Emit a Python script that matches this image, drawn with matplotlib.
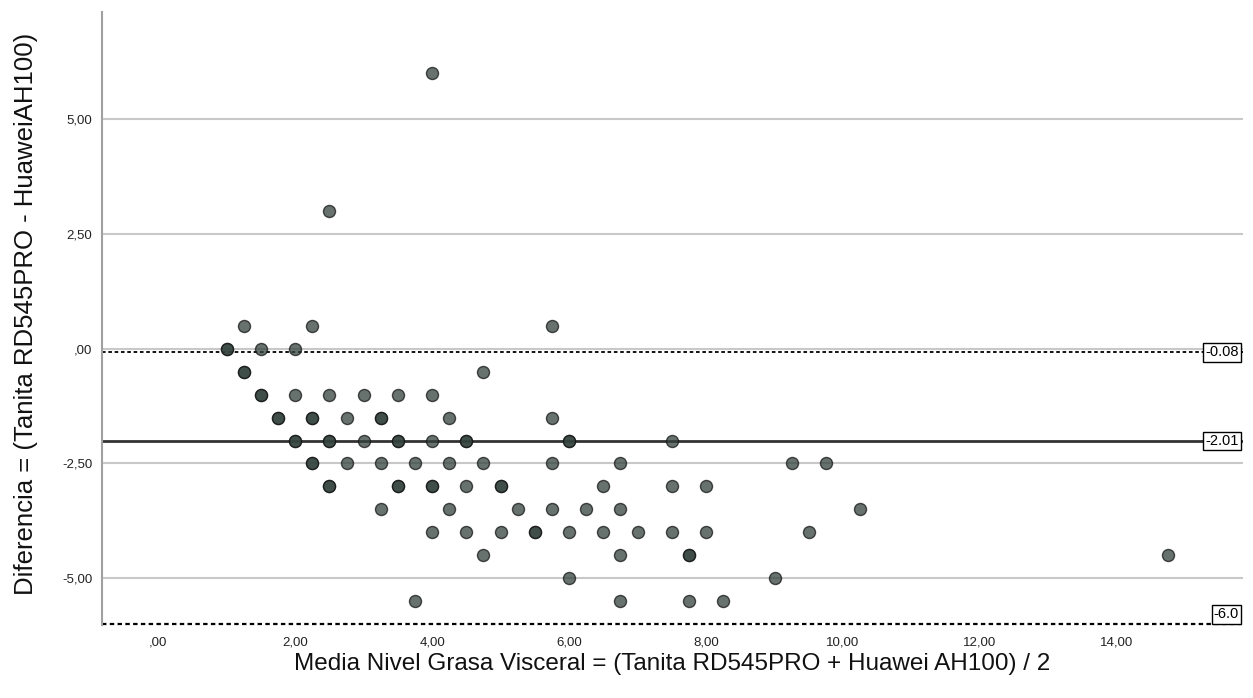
import matplotlib
matplotlib.use("Agg")
import matplotlib.pyplot as plt
import matplotlib.transforms as mtransforms
import numpy as np

# Bland-Altman: media y diferencia de Grasa Visceral (Tanita vs Huawei)
media = [
    4.0,
    2.5,
    1.25, 2.25, 5.75,
    1.0, 1.0, 1.5, 2.0,
    1.25, 1.25, 4.75,
    1.5, 1.5, 2.0, 2.5, 3.0, 3.5, 4.0,
    1.75, 1.75, 2.25, 2.25, 2.75, 3.25, 3.25, 4.25, 5.75,
    2.0, 2.0, 2.5, 2.5, 3.0, 3.5, 3.5, 4.0, 4.5, 4.5, 6.0, 6.0, 7.5,
    2.25, 2.25, 2.75, 3.25, 3.75, 4.25, 4.75, 5.75, 6.75, 9.25, 9.75,
    2.5, 2.5, 3.5, 3.5, 4.0, 4.0, 4.5, 5.0, 5.0, 6.5, 7.5, 8.0,
    3.25, 4.25, 5.25, 5.75, 6.25, 6.75, 10.25,
    4.0, 4.5, 5.0, 5.5, 5.5, 6.0, 6.5, 7.0, 7.5, 8.0, 9.5,
    4.75, 6.75, 7.75, 7.75, 14.75,
    6.0, 9.0,
    3.75, 6.75, 7.75, 8.25,
]
diferencia = [
    6.0,
    3.0,
    0.5, 0.5, 0.5,
    0.0, 0.0, 0.0, 0.0,
    -0.5, -0.5, -0.5,
    -1.0, -1.0, -1.0, -1.0, -1.0, -1.0, -1.0,
    -1.5, -1.5, -1.5, -1.5, -1.5, -1.5, -1.5, -1.5, -1.5,
    -2.0, -2.0, -2.0, -2.0, -2.0, -2.0, -2.0, -2.0, -2.0, -2.0, -2.0, -2.0, -2.0,
    -2.5, -2.5, -2.5, -2.5, -2.5, -2.5, -2.5, -2.5, -2.5, -2.5, -2.5,
    -3.0, -3.0, -3.0, -3.0, -3.0, -3.0, -3.0, -3.0, -3.0, -3.0, -3.0, -3.0,
    -3.5, -3.5, -3.5, -3.5, -3.5, -3.5, -3.5,
    -4.0, -4.0, -4.0, -4.0, -4.0, -4.0, -4.0, -4.0, -4.0, -4.0, -4.0,
    -4.5, -4.5, -4.5, -4.5, -4.5,
    -5.0, -5.0,
    -5.5, -5.5, -5.5, -5.5,
]

# lineas de referencia: limite superior, media, limite inferior
ref_valores = [-0.08, -2.01, -6.0]
ref_textos = ["-0.08", "-2.01", "-6.0"]

xticks = [0, 2, 4, 6, 8, 10, 12, 14]
xtick_labels = [",00", "2,00", "4,00", "6,00", "8,00", "10,00", "12,00", "14,00"]
yticks = [-5, -2.5, 0, 2.5, 5]
ytick_labels = ["-5,00", "-2,50", ",00", "2,50", "5,00"]

plt.rcParams['font.family'] = ['Liberation Sans', 'DejaVu Sans']

W, H = 1253, 698
fig = plt.figure(figsize=(W / 100, H / 100), dpi=100)
ax = fig.add_axes([102 / W, 1 - 625 / H, (1243 - 102) / W, (625 - 12) / H])

ax.set_xlim(-0.82, 15.84)
ax.set_ylim(-6.02, 7.34)

for y in yticks:
    ax.axhline(y, color='#c8c8c8', lw=1.5, zorder=1)

ax.axhline(ref_valores[0], color='black', lw=1.3, ls=(0, (2, 1.5)), zorder=2)
ax.axhline(ref_valores[1], color='#333333', lw=2, zorder=2)
ax.axhline(ref_valores[2], color='black', lw=1.6, ls=(0, (2, 1.5)), zorder=2, clip_on=False)

ax.scatter(media, diferencia, s=75, facecolor='#34433d', edgecolor='#151515',
           linewidth=1, alpha=0.75, zorder=3)

trans = mtransforms.blended_transform_factory(ax.transAxes, ax.transData)
caja = dict(boxstyle='square,pad=0.15', facecolor='white', edgecolor='black', lw=1)
ax.text(0.9965, ref_valores[0], ref_textos[0], transform=trans, ha='right', va='center',
        fontsize=10.5, bbox=caja, zorder=5)
ax.text(0.9965, ref_valores[1], ref_textos[1], transform=trans, ha='right', va='center',
        fontsize=10.5, bbox=caja, zorder=5)
ax.text(0.9965, ref_valores[2] + 0.06, ref_textos[2], transform=trans, ha='right', va='bottom',
        fontsize=10.5, bbox=caja, zorder=5)

ax.set_xticks(xticks)
ax.set_xticklabels(xtick_labels)
ax.set_yticks(yticks)
ax.set_yticklabels(ytick_labels)
ax.tick_params(axis='x', length=0, labelsize=9.5, pad=8, colors='#222222')
ax.tick_params(axis='y', length=0, labelsize=9.5, pad=7, colors='#222222')

for s in ['top', 'right', 'bottom']:
    ax.spines[s].set_visible(False)
ax.spines['left'].set_color('#a0a0a0')
ax.spines['left'].set_linewidth(1.5)

fig.text(672 / W, 1 - 664 / H,
         "Media Nivel Grasa Visceral = (Tanita RD545PRO + Huawei AH100) / 2",
         fontsize=17.5, ha='center', va='center', color='#111111')
fig.text(26 / W, 1 - 314 / H, "Diferencia = (Tanita RD545PRO - HuaweiAH100)",
         fontsize=18.5, rotation=90, ha='center', va='center', color='#111111')

fig.savefig("out.png", dpi=100)
